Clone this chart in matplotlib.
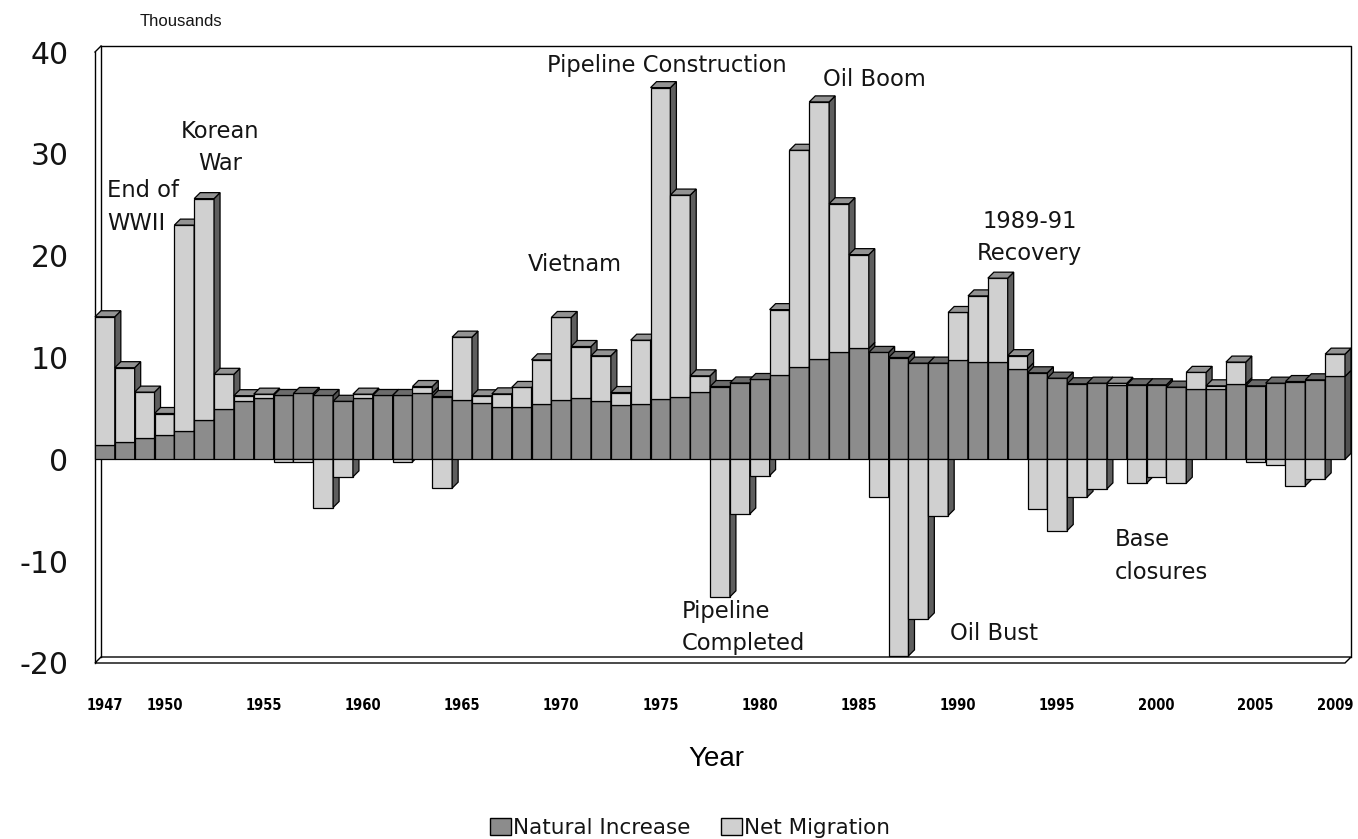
import matplotlib
matplotlib.use("Agg")
import matplotlib.pyplot as plt
from matplotlib.patches import Polygon, Patch

plt.rcParams['font.family'] = ['DejaVu Sans']

# ---------------- data (thousands) ----------------
years = list(range(1947, 2010))
natural_increase = [
    1.4, 1.7, 2.1, 2.4, 2.8, 3.9, 4.9, 5.75, 6.05, 6.27,
    6.47, 6.27, 5.7, 6.0, 6.27, 6.27, 6.5, 6.17, 5.84, 5.58,
    5.12, 5.12, 5.42, 5.84, 6.0, 5.68, 5.35, 5.4, 5.9, 6.15,
    6.6, 7.15, 7.5, 7.84, 8.3, 9.1, 9.9, 10.5, 10.9, 10.5,
    10.0, 9.45, 9.45, 9.77, 9.6, 9.6, 8.9, 8.5, 7.97, 7.42,
    7.48, 7.32, 7.32, 7.32, 7.09, 6.9, 6.9, 7.42, 7.22, 7.48,
    7.64, 7.81, 8.14]
net_migration = [
    12.6, 7.3, 4.5, 2.1, 20.2, 21.7, 3.45, 0.5, 0.35, -0.25,
    -0.25, -4.73, -1.72, 0.4, 0.0, -0.25, 0.65, -2.83, 6.16, 0.66,
    1.31, 1.94, 4.35, 8.09, 5.08, 4.49, 1.21, 6.3, 30.6, 19.8,
    1.6, -13.5, -5.37, -1.6, 6.4, 21.25, 25.2, 14.6, 9.2, -3.7,
    -19.3, -15.67, -5.52, 4.65, 6.45, 8.19, 1.28, -4.86, -6.99, -3.72,
    -2.9, 0.15, -2.34, -1.69, -2.34, 1.64, 0.32, 2.13, -0.29, -0.54,
    -2.6, -1.92, 2.19]
tick_years = [1947, 1950, 1955, 1960, 1965, 1970, 1975, 1980, 1985,
              1990, 1995, 2000, 2005, 2009]
y_ticks = [-20, -10, 0, 10, 20, 30, 40]
series_names = ['Natural Increase', 'Net Migration']

annotations = [
    ("End of\nWWII", 1947.1, 24.8, 'left'),
    ("Korean\nWar", 1952.8, 30.6, 'center'),
    ("Vietnam", 1970.7, 19.1, 'center'),
    ("Pipeline Construction", 1975.3, 38.65, 'center'),
    ("Oil Boom", 1985.8, 37.3, 'center'),
    ("1989-91\nRecovery", 1993.6, 21.8, 'center'),
    ("Pipeline\nCompleted", 1976.05, -16.5, 'left'),
    ("Oil Bust", 1991.8, -17.1, 'center'),
    ("Base\nclosures", 1997.9, -9.5, 'left'),
]

# ---------------- style ----------------
NI_FRONT, NI_TOP, NI_SIDE = '#8c8c8c', '#6c6c6c', '#515151'
NM_FRONT, NM_TOP, NM_SIDE = '#d0d0d0', '#939393', '#5e5e5e'
EDGE_LW = 0.9
TEXT_COLOR = '#141414'

W, H = 1358, 839
fig = plt.figure(figsize=(W / 100, H / 100), dpi=100)
# front plane of the 3-D plot in pixels
left_px, right_px, top_px, bot_px = 95, 1345, 52, 663
ax = fig.add_axes([left_px / W, 1 - bot_px / H,
                   (right_px - left_px) / W, (bot_px - top_px) / H])
ymin, ymax = -20, 40
x0 = years[0]
ax.set_xlim(x0 - 0.5, years[-1] + 0.5)
ax.set_ylim(ymin, ymax)
for s in ax.spines.values():
    s.set_visible(False)

# depth offset (6 px right, 6 px up) in data units
px_x = (right_px - left_px) / len(years)
px_y = (bot_px - top_px) / (ymax - ymin)
dx = 6 / px_x
dy = 6 / px_y

# ---------------- walls ----------------
xl, xr = x0 - 0.5, years[-1] + 0.5
wall_kw = dict(color='black', lw=1.0, clip_on=False, zorder=1)
ax.plot([xl + dx, xr + dx, xr + dx], [ymax + dy, ymax + dy, ymin + dy], **wall_kw)
ax.plot([xl + dx, xl + dx], [ymin + dy, ymax + dy], **wall_kw)
ax.plot([xl, xl], [ymin, ymax], **wall_kw)
ax.plot([xl, xl + dx], [ymax, ymax + dy], **wall_kw)
ax.add_patch(Polygon([(xl, ymin), (xr, ymin), (xr + dx, ymin + dy), (xl + dx, ymin + dy)],
                     closed=True, facecolor='white', edgecolor='black', lw=1.0,
                     clip_on=False, zorder=0.9))


def add_box(x, y0, y1, top, side, z, draw_top=True):
    """Side and top faces of one 3-D segment from y0 to y1 at bar centre x."""
    l, r = x - 0.5, x + 0.5
    lo, hi = min(y0, y1), max(y0, y1)
    kw = dict(closed=True, edgecolor='black', lw=EDGE_LW, clip_on=False)
    ax.add_patch(Polygon([(r, lo), (r + dx, lo + dy), (r + dx, hi + dy), (r, hi)],
                         facecolor=side, zorder=z + 0.0002, **kw))
    if draw_top:
        ax.add_patch(Polygon([(l, hi), (l + dx, hi + dy), (r + dx, hi + dy), (r, hi)],
                             facecolor=top, zorder=z + 0.0003, **kw))


ni_bars = ax.bar(years, natural_increase, width=1.0, color=NI_FRONT,
                 edgecolor='black', linewidth=EDGE_LW)
nm_bottoms = [n if m > 0 else 0 for n, m in zip(natural_increase, net_migration)]
nm_bars = ax.bar(years, net_migration, bottom=nm_bottoms, width=1.0, color=NM_FRONT,
                 edgecolor='black', linewidth=EDGE_LW)

for i, (yr, n, m) in enumerate(zip(years, natural_increase, net_migration)):
    z = 2 + i * 0.001
    ni_bars[i].set_zorder(z)
    ni_bars[i].set_clip_on(False)
    nm_bars[i].set_zorder(z + 0.0001)
    nm_bars[i].set_clip_on(False)
    if m == 0:
        nm_bars[i].set_visible(False)
    if m > 0:
        add_box(yr, 0, n, NI_TOP, NI_SIDE, z, draw_top=False)
        add_box(yr, n, n + m, NM_TOP, NM_SIDE, z + 0.00005)
    else:
        add_box(yr, 0, n, NI_TOP, NI_SIDE, z)
        if m < 0:
            add_box(yr, m, 0, NM_TOP, NM_SIDE, z - 0.00005, draw_top=False)

# ---------------- ticks ----------------
ax.set_yticks(y_ticks)
ax.set_yticklabels([str(v) for v in y_ticks], fontsize=21.5, color=TEXT_COLOR)
ax.tick_params(axis='y', length=0, pad=19)
ax.set_xticks(tick_years)
ax.set_xticklabels([str(v) for v in tick_years], fontsize=10.5, fontweight='bold',
                   family=['Liberation Sans Narrow', 'DejaVu Sans'], fontstretch='condensed')
ax.tick_params(axis='x', length=0, pad=25)

# ---------------- annotations ----------------
for txt, xx, yy, ha in annotations:
    ax.text(xx, yy, txt, ha=ha, va='center', fontsize=16.3, color=TEXT_COLOR,
            linespacing=1.53, zorder=20)

fig.text(140 / W, 1 - 22 / H, 'Thousands', ha='left', va='center', fontsize=12,
         color=TEXT_COLOR, family=['Liberation Sans', 'DejaVu Sans'])
fig.text(716 / W, 1 - 759 / H, 'Year', ha='center', va='center', fontsize=20,
         family=['Liberation Sans', 'DejaVu Sans'])

handles = [Patch(facecolor=NI_FRONT, edgecolor='black', lw=1.0),
           Patch(facecolor=NM_FRONT, edgecolor='black', lw=1.0)]
fig.legend(handles, series_names, loc='center', bbox_to_anchor=(690 / W, 1 - 828 / H),
           ncol=2, frameon=False, fontsize=15.5, handlelength=1.0, handleheight=0.8,
           handletextpad=0.1, columnspacing=1.4, borderpad=0.1,
           labelcolor=TEXT_COLOR)

fig.savefig('out.png', dpi=100, facecolor='white')
